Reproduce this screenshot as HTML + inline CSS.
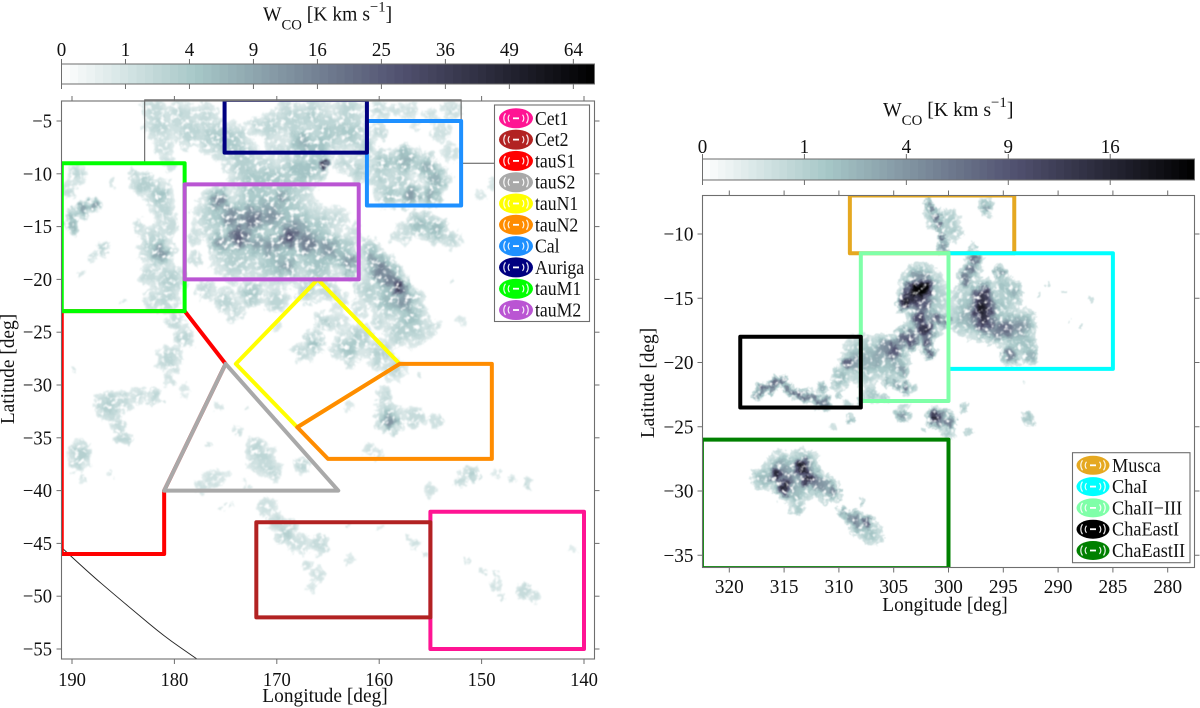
<!DOCTYPE html>
<html lang="en">
<head>
<meta charset="utf-8">
<title>WCO maps of Taurus and Chamaeleon regions</title>
<style>
html,body{margin:0;padding:0;background:#fff;width:1200px;height:708px;overflow:hidden}
svg{display:block}
text{font-family:"Liberation Serif",serif;fill:#111;font-size:20px}
</style>
</head>
<body>
<svg id="fig" xmlns="http://www.w3.org/2000/svg" width="1200" height="708" viewBox="0 0 1200 708">
<defs>
<filter id="cloud-tex" filterUnits="userSpaceOnUse" x="60" y="100" width="536" height="560" color-interpolation-filters="sRGB">
<feTurbulence type="fractalNoise" baseFrequency="0.11" numOctaves="3" seed="7" result="warp"/>
<feDisplacementMap in="SourceGraphic" in2="warp" scale="13" xChannelSelector="R" yChannelSelector="G" result="d"/>
<feTurbulence type="fractalNoise" baseFrequency="0.2" numOctaves="2" seed="4" result="n"/>
<feColorMatrix in="n" type="matrix" values="0 0 0 0 0 0 0 0 0 0 0 0 0 0 0 4.2 0 0 0 -1" result="m0"/>
<feGaussianBlur in="m0" stdDeviation="0.6" result="m"/>
<feGaussianBlur in="d" stdDeviation="0.7" result="b"/>
<feComposite in="b" in2="m" operator="in"/>
</filter>
<filter id="cloud-tex-r" filterUnits="userSpaceOnUse" x="700" y="194" width="496" height="376" color-interpolation-filters="sRGB">
<feTurbulence type="fractalNoise" baseFrequency="0.13" numOctaves="3" seed="12" result="warp"/>
<feDisplacementMap in="SourceGraphic" in2="warp" scale="10" xChannelSelector="R" yChannelSelector="G" result="d"/>
<feTurbulence type="fractalNoise" baseFrequency="0.22" numOctaves="2" seed="9" result="n"/>
<feColorMatrix in="n" type="matrix" values="0 0 0 0 0 0 0 0 0 0 0 0 0 0 0 4.2 0 0 0 -0.95" result="m0"/>
<feGaussianBlur in="m0" stdDeviation="0.5" result="m"/>
<feGaussianBlur in="d" stdDeviation="0.55" result="b"/>
<feComposite in="b" in2="m" operator="in"/>
</filter>
<clipPath id="clip-left"><rect x="61.5" y="101" width="533" height="558"/></clipPath>
<clipPath id="clip-right"><rect x="702.5" y="195.5" width="492" height="372"/></clipPath>
</defs>
</svg>
<script>
// ---------- chart data ----------
const leftXTicks = [190,180,170,160,150,140];
const leftYTicks = [-5,-10,-15,-20,-25,-30,-35,-40,-45,-50,-55];
const rightXTicks = [320,315,310,305,300,295,290,285,280];
const rightYTicks = [-10,-15,-20,-25,-30,-35];
const leftBarTicks = [0,1,4,9,16,25,36,49,64];
const rightBarTicks = [0,1,4,9,16];
const leftBarMax = 69.4;
const rightBarMax = 23.3;

// clumps of emission: [longitude, latitude, W_CO, radius in degrees]
const leftClumps = [
[182,-4,2,1],[181.5,-5.5,2.5,1.1],[181,-7.5,1.6,.8],[180.5,-9,1.6,.6],[179.5,-4.5,2.2,1.2],[178.5,-6,2.8,1.1],[177,-4.5,2,1],[176,-6.5,3.5,1.2],[174.5,-7,4,1.2],[173.5,-8.5,3,1.3],[173,-10,3,1.3],[171.5,-10.5,3.5,1.5],[170,-10.5,3.5,1.3],
[172,-5.5,1.6,.8],[170.5,-5.5,2.5,1],[168.5,-5,2.5,1.2],[166.5,-4.5,3,1.2],[165,-6,4,1.2],[167.5,-7,7,1],[166,-7.5,5,1],[163,-6,4,1.2],[163,-4,2.5,1.2],[169,-4,1.6,1],[161.5,-7.5,3,.8],[170,-7.5,1.5,.8],
[168,-9.5,5,1.2],[166.5,-9.5,5,.9],[167.5,-10.8,3,1],[165.4,-9,40,.3],[163.5,-9,2.5,.7],[162,-9.5,3,.8],[162,-10.5,1.5,.6],
[160,-4,2,.7],[158.5,-4,1.6,.6],[157,-4,1.5,.7],[153,-4,2,.7],[155,-4.5,1.5,.6],
[160,-6,1.8,.7],[154,-6,1.6,.8],[156.5,-5.5,1,.5],[159.5,-9,5,.9],[157.5,-8.7,7,.9],[155.5,-9.3,7,.8],[154.5,-10.5,7,.8],[155,-12,8,.7],[157,-12,11,.7],[159,-12,5,.8],[160,-10.5,3,.8],[158,-10.5,3,.9],[153,-8,1.6,.8],[150,-12,1.2,.4],[149,-11,1.2,.4],
[156,-14.8,6,.8],[154.5,-15.3,6,.8],[153,-16.2,2.5,.7],[157.5,-15.5,2,.7],[158.5,-16,1.5,.5],
[161,-17,4,.7],[160.5,-18,9,.7],[160,-19,16,.8],[159,-20,18,.8],[158,-20.7,40,.5],[157.5,-22,12,.9],[157,-23.5,5,1.1],[159,-22,6,1.1],[161,-21,3,1.1],[158,-25,3,1],[156.5,-25,2.5,1],[155,-24.5,1.8,.6],[152,-24,1.2,.4],[162,-23,1.3,.7],[153,-20,.9,.4],
[176,-14,3.5,1.5],[172,-13.5,5,1.8],[169,-13.5,4,1.8],[166,-15,3.5,1.4],[170,-18,5,1.8],[174,-18,3.5,1.6],[166,-18.5,5,1.4],[163.5,-17.5,5,1.1],[178,-16,1.6,.7],[178,-18,1.6,.7],[172.5,-11.5,3.5,1.1],[169,-11.5,3.5,1.1],[164,-14,1.6,.8],[162.5,-15.5,1.6,.7],
[175.7,-12.5,16,.7],[174.5,-14,14,.9],[172.5,-14.3,18,.9],[170.5,-14,12,1],[168,-15,8,1.1],[169.5,-12.3,10,.6],[171,-12.5,5,.7],
[175.5,-16.5,12,.7],[173.7,-15.9,24,.8],[172,-16.7,10,.9],[170.5,-16.7,12,.8],[168.8,-16,28,.8],[167,-16.5,16,1],[165,-17,12,.9],[163,-18.5,12,.7],[169,-18.7,9,.8],
[190,-14,6,.5],[189,-13.4,10,.45],[188,-13,10,.4],[190,-15,6,.5],[189.5,-10,2.5,.7],[190.4,-11.5,2,.6],[186,-10.8,1,.4],
[184,-10,1.8,.5],[183,-11,3.5,.8],[181.5,-12,4.5,.9],[181,-13.5,2.5,.8],
[182,-17,3,1.1],[181.4,-17.5,12,.7],[182,-16,2,1],[180.5,-15,2,.8],[180.5,-20,3.5,1.1],[182.5,-19.5,2,.8],[180.8,-22,2.5,.9],[182,-22,2,.8],[183.5,-15,1.6,.6],[187,-17,3,.45],[188,-18,1.6,.35],[189,-19.5,1.2,.35],[185,-22,1,.4],
[177,-21,2.2,.8],[175,-22,2.8,.8],[172.5,-21.3,4.5,.8],[170,-22,2.8,.9],[174,-23,1.6,.8],[167,-21,3,.9],[165,-21,2.5,.8],[164,-22,1.6,.8],[170,-24.5,1.2,.4],
[163,-26.5,4.5,1],[162,-25.5,3.5,.9],[160,-27,3,1],[158.5,-28.5,2.2,.9],[166.5,-26,5,.7],[167.5,-27,2.2,.7],[165.5,-24,3,.6],[164,-24,2,.7],[160,-24,1.8,.6],
[180,-24,2.2,.7],[179,-25.5,2.8,.7],[180.5,-27.5,2.8,.9],[180.5,-29.5,1.6,.5],[179,-30.5,1.2,.4],
[186.5,-32,3.5,.9],[185,-31.5,2.2,.7],[183.5,-31,1.8,.6],[182,-31,2.4,.6],[186,-33,1.6,.6],[185.5,-34,2,.5],[185,-35,2.8,.5],[189.2,-36.5,3.5,.8],[189.5,-37.5,2.2,.6],[189,-38.8,1.2,.35],[186.3,-38.5,1.2,.35],[189.7,-28.5,1,.35],
[171.5,-37,2.2,1.1],[172,-36,2.2,.8],[170.5,-38,2.4,.7],[167.5,-37.7,2.4,.55],[174,-34.3,1.3,.45],[176.5,-39,1.6,.8],[177.5,-39.5,1.3,.5],[175.5,-38.5,1.3,.6],[175.7,-32,1,.35],[173,-32.4,.9,.25],[176.5,-35.5,1,.35],
[173,-39.5,1.2,.4],[171,-41.5,1.6,.8],[170,-43,2,.8],[169,-44,3,.8],[168,-45,1.6,.8],[166,-45,2.2,.8],[167,-47,1.3,.5],[166,-48,1.6,.55],[166.5,-49,1.2,.4],[175.5,-41.5,1,.3],[174.5,-41.5,1,.3],
[163,-46.5,1.2,.4],[163,-43.5,1,.4],[160,-43.5,.8,.25],[156.5,-45,1.4,.4],[155.5,-46,1.2,.3],[157,-44.5,1.2,.3],
[159,-33.5,12,.55],[159,-33,4,1],[156.5,-33,2.2,.8],[154.5,-33.5,1.6,.6],[159.5,-31,2.2,.6],[163,-32,1.2,.4],[161,-36,1.4,.55],[160,-36.5,1.2,.5],[156,-29,1,.35],
[151,-38.5,3.5,.55],[152,-39,2.2,.5],[155,-40,1.6,.55],[147,-38.8,1.4,.4],[145.5,-39.3,1.8,.4],[148.5,-38.5,1.2,.4],
[151.5,-46.5,1.2,.35],[150,-47.5,1.2,.35],[148.5,-49,1.4,.5],[148.5,-48,1.2,.35],[148.2,-50,1.2,.35],[146,-49.5,2.2,.65],[144.8,-50,1.4,.4],[144,-51,.9,.2],[141,-45.5,.9,.25]
];
const rightClumps = [
[301.8,-7.5,3,.2],[301.5,-8,6,.2],[301.1,-8.7,7,.2],[300.9,-9.4,7,.2],[300.6,-10.2,7,.2],[300.5,-11,4,.3],[301.5,-8.7,1.5,.5],[299.8,-8.8,1.4,.5],[299.5,-9.8,1.2,.45],[300.2,-9.6,1,.5],[296.6,-7.9,3,.35],[297.8,-11,1.3,.22],
[297.7,-11.9,7,.3],[298,-12.7,6,.3],[298.5,-13.5,6,.35],[298,-13,1.8,.6],[295.3,-13,3.5,.3],[294.1,-14.5,2.5,.45],[295,-14,1.6,.55],
[296.9,-14.8,13,.5],[296.9,-15.8,18,.6],[296.7,-16.8,12,.55],[297,-16,3.5,1.1],[295,-15.5,1.2,.9],[298.5,-16.5,2.2,.8],[298.8,-15,1,.6],
[294.7,-17.3,7,.55],[293.5,-17.2,4,.6],[295.5,-17.5,5,.55],[292.8,-16.8,1.8,.5],[294.4,-19.4,6,.4],[293.6,-18.5,1.6,.7],[292.6,-19.4,2.5,.4],[292.7,-18.5,1.4,.5],
[291,-13.8,.8,.1],[289.5,-14.5,.8,.1],[289,-16.8,.8,.1],[288,-17.2,.8,.1],[290.5,-16,.8,.1],[293,-21.5,.7,.1],[291.8,-14.8,.8,.1],[287,-15,.7,.1],
[303,-14.4,30,.5],[302.2,-14.2,24,.45],[303.8,-15.2,18,.4],[302.5,-15.2,10,.6],[302.5,-14,5,.8],[302.5,-14.5,1.6,1.2],[301,-15,1,.9],
[302.6,-16.5,12,.4],[302.2,-17.4,14,.45],[301.2,-16.5,8,.35],[300.3,-16.8,5,.3],[302,-18.4,9,.3],[301.8,-19.2,8,.25],[303.5,-18.2,10,.4],[304.2,-18.1,7,.4],[302.4,-17,2,.9],
[305,-19,10,.45],[305.8,-18.8,4,.5],[306.5,-19.5,2.8,.8],[305,-20,2.2,.8],[304.3,-20.5,3.5,.35],[308,-19.5,1.7,1],[307.5,-20.5,1.4,.8],
[304,-22,7,.22],[304.8,-21.7,3,.25],[305.5,-21.5,2,.3],[303.5,-22,1.5,.3],[307,-22.5,1.4,.4],[306,-22.8,1.2,.3],[308,-22.8,1.2,.25],
[309.3,-20,8,.3],[308.5,-20,3.5,.6],[309.7,-21,1.8,.45],[310,-21.5,1.8,.4],
[317.5,-22.5,4,.22],[317,-22.1,7,.25],[316.3,-21.9,6,.25],[315.8,-21.5,7,.22],[315.2,-21.4,7,.22],[314.7,-22,6,.22],[314.2,-22.4,7,.22],[313.6,-22.5,7,.22],[313,-22.6,7,.25],[312.4,-22.7,7,.25],[311.8,-23.1,6,.28],[311.3,-23.2,5,.28],[311.5,-22,2.5,.28],[310,-22.5,1.3,.22],[309.3,-23.2,1.2,.2],
[304.2,-24,4,.3],[309,-24.4,1.8,.22],[301.3,-24.3,16,.3],[300.8,-24.4,5,.4],[300,-24.6,6,.33],[300,-25.5,1.3,.3],[298.7,-23.5,1.3,.28],[298.3,-25.3,1,.22],[292.7,-24.3,1.8,.3],[310.5,-25,.8,.12],[302.3,-25.2,1,.15],
[317.2,-29,1.7,.45],[316.5,-29,2,.5],[315.2,-28.5,4,.75],[313.3,-28.3,4,.75],[314,-29.5,2.2,.9],[315.7,-28.7,16,.33],[315,-29.7,16,.38],[314.6,-28.9,5,.35],[313.4,-28.1,18,.38],[312.8,-29,16,.38],[312.2,-29.4,5,.4],[311.5,-29.5,4,.45],[310.5,-30,5,.3],[311,-30,2.2,.55],[313.8,-31.3,1.4,.4],[307.9,-30.9,1.2,.16],[314,-30.4,1.5,.35],
[309.7,-31.6,2.8,.28],[309,-32,4,.3],[308.5,-32.3,5,.3],[307.5,-32.5,8,.25],[307,-33.3,1.7,.5],[308,-32.7,2.2,.55],[305.9,-33.5,.9,.13]
];

// region outlines
const leftRegionNames = ["Cet1","Cet2","tauS1","tauS2","tauN1","tauN2","Cal","Auriga","tauM1","tauM2"];
const leftRegionColors = ["#ff1493","#b22222","#ff0000","#a9a9a9","#ffff00","#ff8c00","#1e90ff","#000080","#00ff00","#ba55d3"];
const leftRegionLons = [
[155,140,140,155],[172,155,155,172],[179,175,181,181,191,191],[175,164,181],[166,158,168,174],
[158,149,149,165,168],[161.2,152,152,161.2],[175.1,161.2,161.2,175.1],[191,179,179,191],[179,162,162,179]];
const leftRegionLats = [
[-42,-42,-55,-55],[-43,-43,-52,-52],[-23,-28,-40,-46,-46,-23],[-28,-40,-40],[-20,-28,-34,-28],
[-28,-28,-37,-37,-34],[-5,-5,-13,-13],[-3,-3,-8,-8],[-9,-9,-23,-23],[-11,-11,-20,-20]];
const rightRegionNames = ["Musca","ChaI","ChaII−III","ChaEastI","ChaEastII"];
const rightRegionColors = ["#e5a820","#00ffff","#7fffa8","#000000","#008000"];
const rightRegionLons = [[309,294,294,309],[300,285,285,300],[308,300,300,308],[319,308,308,319],[322.5,300,300,322.5]];
const rightRegionLats = [[-7,-7,-11.5,-11.5],[-11.5,-11.5,-20.5,-20.5],[-11.5,-11.5,-23,-23],[-18,-18,-23.5,-23.5],[-26,-26,-36,-36]];

// survey edge and sky-coverage curve
const surveyLon = [191,182.9,182.9,152,152,148];
const surveyLat = [-9,-9,-3,-3,-9,-9];
const curveLon = [191.07,188.44,185.8,183.95,181,177.8];
const curveLat = [-45.34,-47.71,-49.9,-51.4,-53.8,-55.95];

// ---------- axis functions ----------
const lx = lon => 72 + (190 - lon) * 10.24;
const ly = lat => 385 + (-30 - lat) * 10.56;
const rx = lon => 729.3 + (320 - lon) * 10.96;
const ry = lat => 234 + (-10 - lat) * 12.85;
const leftBarX = w => 61.5 + Math.sqrt(w) / Math.sqrt(leftBarMax) * 533;
const rightBarX = w => 702.5 + Math.sqrt(w) / Math.sqrt(rightBarMax) * 492;

const svg = document.getElementById('fig');
const NS = 'http://www.w3.org/2000/svg';
function mk(parent, tag, attrs, txt){
  const e = document.createElementNS(NS, tag);
  for (const k in attrs) e.setAttribute(k, attrs[k]);
  if (txt !== undefined) e.textContent = txt;
  parent.appendChild(e);
  return e;
}
function label(parent, x, y, txt, anchor, sx, size){
  const e = mk(parent, 'text', {transform:`translate(${x},${y}) scale(${sx},1)`, 'text-anchor':anchor, style:`font-size:${size}px`}, txt);
  return e;
}
function boneR(t){
  t = Math.max(0, Math.min(1, t));
  const st = [[0,255,255,255],[.254,166,199,199],[.635,81,81,112],[1,0,0,0]];
  for (let i = 1; i < st.length; i++){
    if (t <= st[i][0]){
      const a = st[i-1], b = st[i], f = (t - a[0]) / (b[0] - a[0]);
      return `rgb(${Math.round(a[1]+(b[1]-a[1])*f)},${Math.round(a[2]+(b[2]-a[2])*f)},${Math.round(a[3]+(b[3]-a[3])*f)})`;
    }
  }
  return '#000';
}
const fmt = v => String(v).replace('-', '−');

function drawColorbar(prefix, x0, x1, y0, y1, ticks, barX, labY, sx){
  const g = mk(svg, 'g', {});
  
  
  const n = 64;
  const ramp = mk(g, 'g', {'shape-rendering':'crispEdges'});
  for (let i = 0; i < n; i++){
    const a = x0 + (x1 - x0) * i / n;
    mk(ramp, 'rect', {x:a, y:y0, width:(i === n-1 ? (x1-x0)/n : (x1-x0)/n + 1), height:y1-y0, fill:boneR((i+.5)/n)});
  }
  mk(g, 'rect', {x:x0, y:y0, width:x1-x0, height:y1-y0, fill:'none', stroke:'#6e6e6e', 'stroke-width':1});
  ticks.forEach(w => {
    const x = barX(w);
    mk(g, 'line', {x1:x, x2:x, y1:y0-5, y2:y0, stroke:'#6e6e6e'});
    mk(g, 'line', {x1:x, x2:x, y1:y1, y2:y1+5, stroke:'#6e6e6e'});
    const t = label(g, x, labY, String(w), 'middle', sx, 20);
    
    
  });
}
// emission map: clumps are summed onto a grid in lon/lat, then cells are drawn by colour level
function drawClouds(prefix, clumps, fx, fy, lonL, lonR, latT, latB, step, spread, wMin, barMax, clip, filter){
  const nc = Math.ceil((lonL - lonR) / step), nr = Math.ceil((latT - latB) / step);
  const grid = new Float64Array(nc * nr);
  clumps.forEach(c => {
    const s = c[3] * spread, reach = s * 3.6;
    const c0 = Math.max(0, Math.floor((lonL - c[0] - reach) / step)), c1 = Math.min(nc-1, Math.ceil((lonL - c[0] + reach) / step));
    const r0 = Math.max(0, Math.floor((latT - c[1] - reach) / step)), r1 = Math.min(nr-1, Math.ceil((latT - c[1] + reach) / step));
    for (let r = r0; r <= r1; r++){
      const la = latT - (r + .5) * step;
      for (let q = c0; q <= c1; q++){
        const lo = lonL - (q + .5) * step;
        const v = c[2] * Math.exp(-((lo-c[0])*(lo-c[0]) + (la-c[1])*(la-c[1])) / (2*s*s));
        grid[r*nc + q] += v*v;
      }
    }
  });
  const levels = 40, paths = Array.from({length:levels}, () => []);
  const w = Math.abs(fx(lonL - step) - fx(lonL)), h = Math.abs(fy(latT - step) - fy(latT));
  for (let r = 0; r < nr; r++){
    for (let q = 0; q < nc; q++){
      const W = Math.sqrt(grid[r*nc + q]);
      if (W < wMin) continue;
      const lev = Math.min(levels-1, Math.floor(Math.sqrt(W / barMax) * levels));
      const x = fx(lonL - q*step), y = fy(latT - r*step);
      paths[lev].push(`M${x.toFixed(1)} ${y.toFixed(1)}h${(w+.4).toFixed(1)}v${(h+.4).toFixed(1)}h${(-w-.4).toFixed(1)}z`);
    }
  }
  const outer = mk(svg, 'g', {'clip-path':`url(#${clip})`});
  const g = mk(outer, 'g', {filter:`url(#${filter})`, 'shape-rendering':'crispEdges'});
  
  
  paths.forEach((p, i) => {
    if (!p.length) return;
    const el = mk(g, 'path', {d:p.join(''), fill:boneR((i+.5)/levels)});
    
    
  });
}
function drawRegions(prefix, names, colors, lons, lats, fx, fy, clip){
  const g = mk(svg, 'g', {'clip-path':`url(#${clip})`});
  
  
  names.forEach((nm, i) => {
    const pts = lons[i].map((lo, j) => fx(lo) + ',' + fy(lats[i][j])).join(' ');
    const el = mk(g, 'polygon', {points:pts, fill:'none', stroke:colors[i], 'stroke-width':4, 'stroke-linejoin':'round'});
    
    
  });
}
function drawFrame(prefix, L, R, T, B, xt, yt, fx, fy, xLabY, yLabX, sx){
  const g = mk(svg, 'g', {});
  
  
  mk(g, 'rect', {x:L, y:T, width:R-L, height:B-T, fill:'none', stroke:'#6e6e6e', 'stroke-width':1.1});
  xt.forEach(v => {
    const x = fx(v);
    mk(g, 'line', {x1:x, x2:x, y1:T-5, y2:T, stroke:'#6e6e6e'});
    mk(g, 'line', {x1:x, x2:x, y1:B, y2:B+5, stroke:'#6e6e6e'});
    const t = label(g, x, xLabY, String(v), 'middle', sx, 20);
    
    
  });
  yt.forEach(v => {
    const y = fy(v);
    mk(g, 'line', {x1:L-5, x2:L, y1:y, y2:y, stroke:'#6e6e6e'});
    mk(g, 'line', {x1:R, x2:R+5, y1:y, y2:y, stroke:'#6e6e6e'});
    const t = label(g, yLabX, y+6.5, fmt(v), 'end', sx, 20);
    
    
  });
}
function drawLegend(prefix, names, colors, x, y, w, h, cx, firstY, step, textX, rxx, ryy, sx){
  const g = mk(svg, 'g', {});
  
  
  mk(g, 'rect', {x:x, y:y, width:w, height:h, fill:'#fff', stroke:'#6e6e6e', 'stroke-width':1.1});
  names.forEach((nm, i) => {
    const cy = firstY + i * step;
    const e = mk(g, 'g', {transform:`translate(${cx},${cy})`});
    
    
    mk(e, 'ellipse', {rx:rxx, ry:ryy, fill:colors[i]});
    mk(e, 'rect', {x:-3, y:-.9, width:6, height:1.8, fill:'#fff'});
    ['M-6.5 -3.5A7 6 0 0 0 -6.5 3.5','M6.5 -3.5A7 6 0 0 1 6.5 3.5','M-10.5 -5A10 9 0 0 0 -10.5 5','M10.5 -5A10 9 0 0 1 10.5 5'].forEach(d =>
      mk(e, 'path', {d:d, fill:'none', stroke:'#fff', 'stroke-width':1.2, opacity:.9}));
    label(g, textX, cy+6.5, nm, 'start', sx, 20);
  });
}
function drawTitle(prefix, x, y, sx){
  const t = mk(svg, 'text', {transform:`translate(${x},${y}) scale(${sx},1)`});
  
  
  mk(t, 'tspan', {}, 'W');
  mk(t, 'tspan', {dy:9, style:'font-size:15px'}, 'CO');
  mk(t, 'tspan', {dy:-9}, ' [K km s');
  mk(t, 'tspan', {dy:-9, style:'font-size:15px'}, '−1');
  mk(t, 'tspan', {dy:9}, ']');
}
function axisTitle(name, txt, x, y, rot, sx){
  const t = mk(svg, 'text', {'text-anchor':'middle', transform: rot ? `translate(${x},${y}) rotate(-90) scale(${sx},1)` : `translate(${x},${y}) scale(${sx},1)`}, txt);
  
  
}

// ---------- left panel ----------
drawColorbar('left', 61.5, 594.5, 64, 84, leftBarTicks, leftBarX, 56, .95);
drawTitle('left', 263, 20.5, .98);
drawClouds('left', leftClumps, lx, ly, 191, 139, -3, -56, 0.25, 0.78, 0.5, leftBarMax, 'clip-left', 'cloud-tex');
const surveyEdge = mk(svg, 'polyline', {points:surveyLon.map((v,i)=>lx(v)+','+ly(surveyLat[i])).join(' '), fill:'none', stroke:'#555', 'stroke-width':1});


let curveD = 'M' + lx(curveLon[0]) + ' ' + ly(curveLat[0]);
for (let i = 1; i < curveLon.length - 1; i++){
  const mx = (lx(curveLon[i]) + lx(curveLon[i+1])) / 2, my = (ly(curveLat[i]) + ly(curveLat[i+1])) / 2;
  curveD += 'Q' + lx(curveLon[i]) + ' ' + ly(curveLat[i]) + ' ' + mx + ' ' + my;
}
curveD += 'L' + lx(curveLon[curveLon.length-1]) + ' ' + ly(curveLat[curveLat.length-1]);
const skyCurve = mk(svg, 'path', {d:curveD, fill:'none', stroke:'#222', 'stroke-width':.9});


drawRegions('left', leftRegionNames, leftRegionColors, leftRegionLons, leftRegionLats, lx, ly, 'clip-left');
drawFrame('left', 61.5, 594.5, 101, 659, leftXTicks, leftYTicks, lx, ly, 686, 52, .93);
drawLegend('left', leftRegionNames, leftRegionColors, 494.5, 105, 95, 216.5, 516, 118.3, 21.3, 535, 17, 10, .885);
axisTitle('left-x-axis-title', 'Longitude [deg]', 325, 702, false, .97);
axisTitle('left-y-axis-title', 'Latitude [deg]', 14, 369, true, .97);

// ---------- right panel ----------
drawColorbar('right', 702.5, 1194.5, 159, 180, rightBarTicks, rightBarX, 153, .95);
drawTitle('right', 883, 116, .99);
drawClouds('right', rightClumps, rx, ry, 322.5, 277.5, -7, -36, 0.2, 0.95, 0.28, rightBarMax, 'clip-right', 'cloud-tex-r');
drawRegions('right', rightRegionNames, rightRegionColors, rightRegionLons, rightRegionLats, rx, ry, 'clip-right');
drawFrame('right', 702.5, 1194.5, 195.5, 567.5, rightXTicks, rightYTicks, rx, ry, 593, 693.5, .96);
drawLegend('right', rightRegionNames, rightRegionColors, 1072.5, 452.7, 117.5, 110, 1093, 465.3, 21.3, 1112, 16.5, 9.5, .915);
axisTitle('right-x-axis-title', 'Longitude [deg]', 945, 611, false, .97);
axisTitle('right-y-axis-title', 'Latitude [deg]', 654, 383, true, .97);
</script>
</body>
</html>
